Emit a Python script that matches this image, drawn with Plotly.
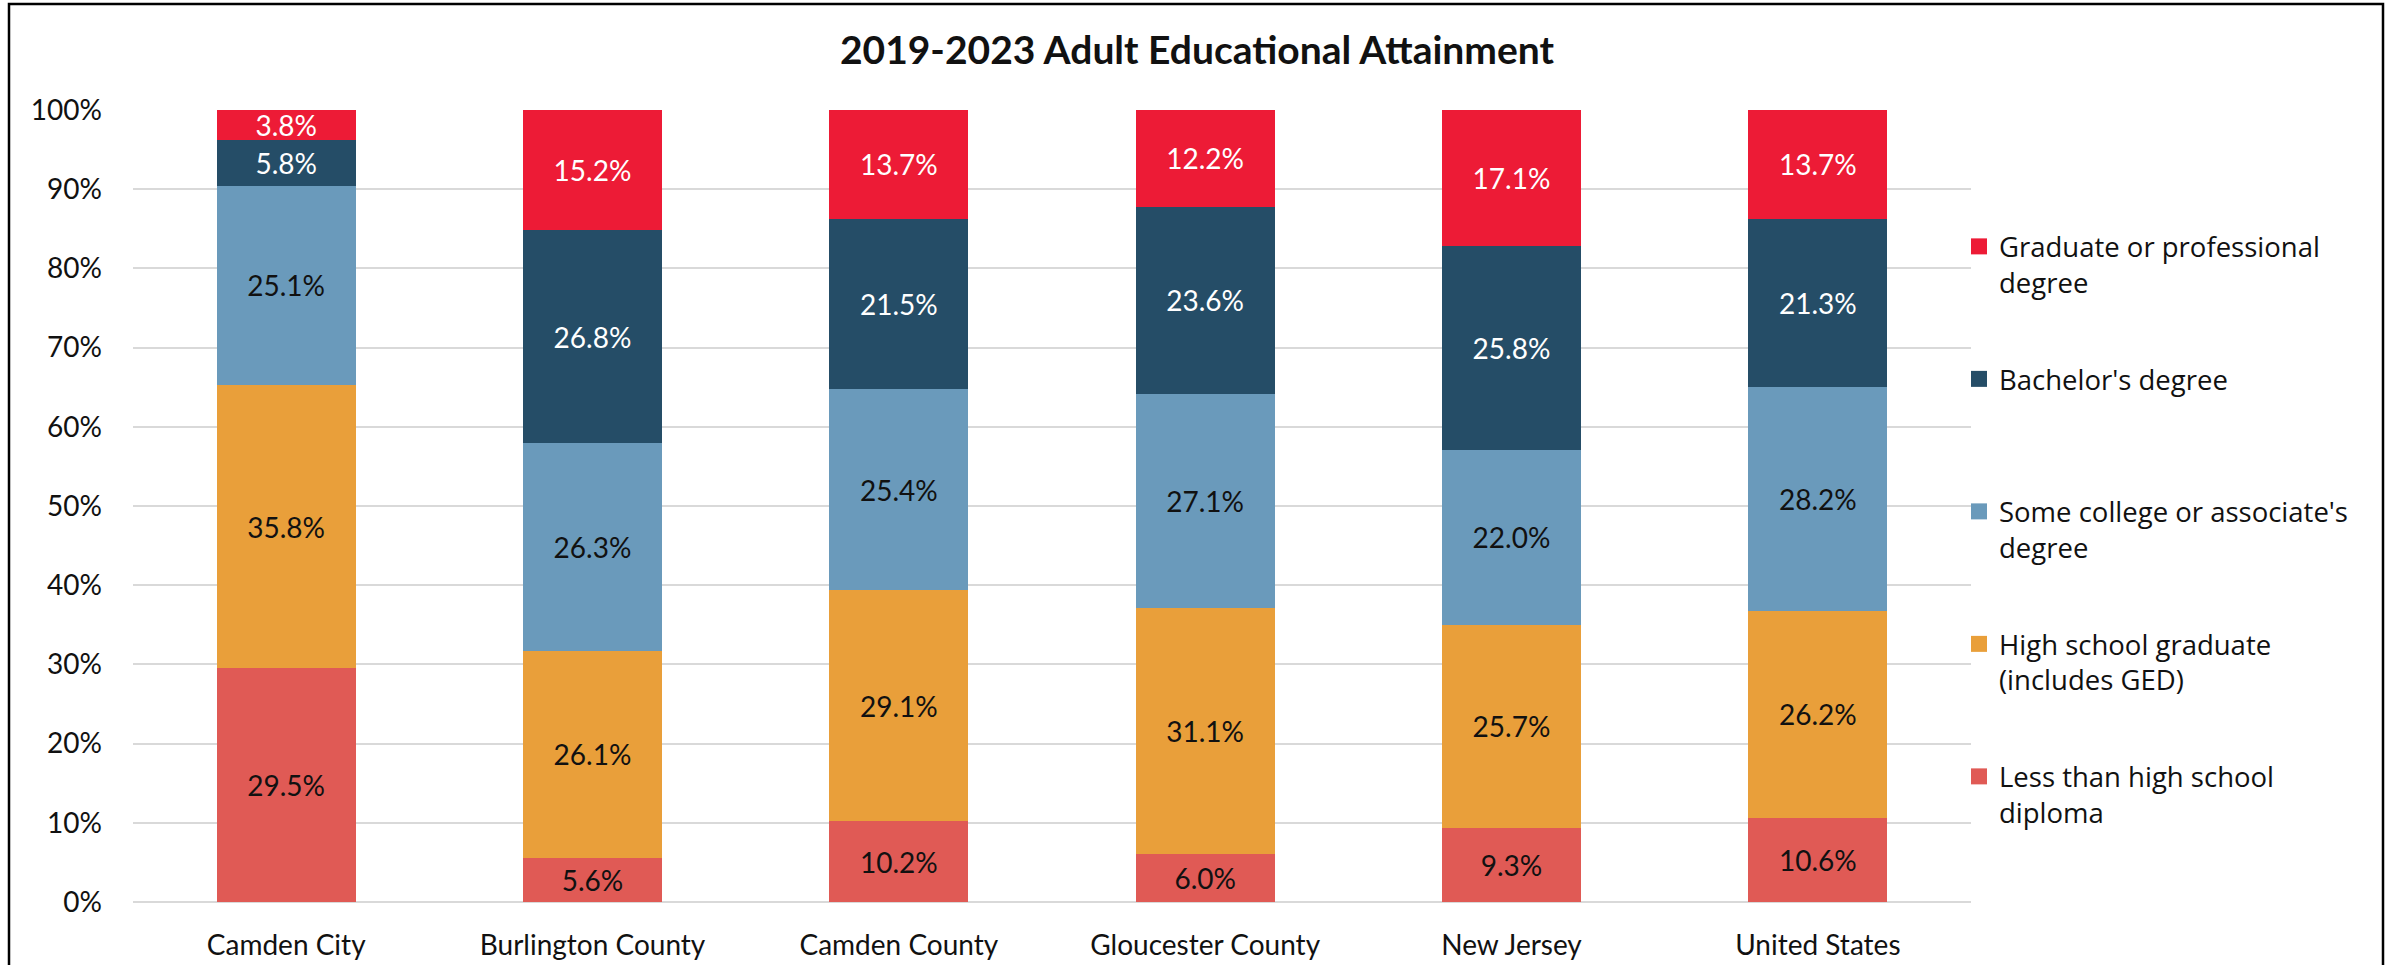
import plotly.graph_objects as go

categories = ["Camden City", "Burlington County", "Camden County",
              "Gloucester County", "New Jersey", "United States"]

less_than_hs = [29.5, 5.6, 10.2, 6.0, 9.3, 10.6]
high_school = [35.8, 26.1, 29.1, 31.1, 25.7, 26.2]
some_college = [25.1, 26.3, 25.4, 27.1, 22.0, 28.2]
bachelors = [5.8, 26.8, 21.5, 23.6, 25.8, 21.3]
graduate = [3.8, 15.2, 13.7, 12.2, 17.1, 13.7]

series_names = ["Less than high school diploma", "High school graduate (includes GED)",
                "Some college or associate's degree", "Bachelor's degree",
                "Graduate or professional degree"]
legend_labels = ["Less than high school<br>diploma", "High school graduate<br>(includes GED)",
                 "Some college or associate's<br>degree", "Bachelor's degree<br>&nbsp;",
                 "Graduate or professional<br>degree"]
series_values = [less_than_hs, high_school, some_college, bachelors, graduate]
colors = ["#E05A55", "#E99F3A", "#6A9ABB", "#254D67", "#ED1B36"]
label_colors = ["#111111", "#111111", "#111111", "#FFFFFF", "#FFFFFF"]

y_ticks = list(range(0, 101, 10))
y_tick_labels = [f"{v}%" for v in y_ticks]

W, H = 2394, 965
ML, MR, MT, MB = 133, 423, 110, 63

fig = go.Figure()

# legend entries (top to bottom)
for i in reversed(range(len(series_names))):
    fig.add_trace(go.Scatter(
        x=[None], y=[None], mode="markers", name=legend_labels[i],
        legendgroup=f"g{i}", showlegend=True,
        marker=dict(symbol="square", size=16, color=colors[i], line=dict(width=0)),
        hoverinfo="skip",
    ))

for i, name in enumerate(series_names):
    vals = series_values[i]
    fig.add_trace(go.Bar(
        x=categories, y=vals, name=name, showlegend=False,
        marker=dict(color=colors[i], line=dict(width=0)),
        text=[f"{v:.1f}%" for v in vals],
        textposition="inside", insidetextanchor="middle",
        textangle=0, constraintext="none",
        insidetextfont=dict(family="Lato", size=28, color=label_colors[i]),
        hovertemplate="%{x}<br>" + name + ": %{text}<extra></extra>",
    ))

plot_w = W - ML - MR
plot_h = H - MT - MB

fig.update_layout(
    width=W, height=H,
    margin=dict(l=ML, r=MR, t=MT, b=MB, pad=0),
    barmode="stack", barnorm="percent", bargap=0.546,
    paper_bgcolor="white", plot_bgcolor="white",
    font=dict(family="Lato", size=28, color="#111111"),
    title=dict(text="<b>2019-2023 Adult Educational Attainment</b>",
               x=0.5, xref="container", xanchor="center",
               y=1 - 50 / H, yref="container", yanchor="middle",
               font=dict(family="Lato", size=39, color="#111111")),
    xaxis=dict(type="category", showgrid=False, showline=False, zeroline=False,
               ticks="", ticklabelstandoff=24, automargin=False,
               tickfont=dict(family="Lato", size=28, color="#111111")),
    yaxis=dict(range=[0, 100], tickvals=y_ticks, ticktext=y_tick_labels,
               showgrid=True, gridcolor="#D9D9D9", gridwidth=1.5,
               zeroline=True, zerolinecolor="#D9D9D9", zerolinewidth=1.5,
               showline=False, ticks="", ticklabelstandoff=30, automargin=False,
               tickfont=dict(family="Lato", size=28, color="#111111")),
    legend=dict(x=(1959 - ML) / plot_w, xanchor="left",
                y=(H - MB - 222) / plot_h, yanchor="top",
                traceorder="grouped", tracegroupgap=58, valign="top",
                font=dict(family="Open Sans", size=27.5, color="#111111"),
                bgcolor="rgba(0,0,0,0)", borderwidth=0),
    shapes=[dict(type="rect", xref="paper", yref="paper",
                 x0=(9 - ML) / plot_w, x1=(2383 - ML) / plot_w,
                 y0=(H - MB - 1000) / plot_h, y1=(H - MB - 4) / plot_h,
                 line=dict(color="#000000", width=2.5), fillcolor="rgba(0,0,0,0)",
                 layer="above")],
)

fig.write_html("out.html", config={"displayModeBar": False},
               post_script="document.body.style.margin='0';")
